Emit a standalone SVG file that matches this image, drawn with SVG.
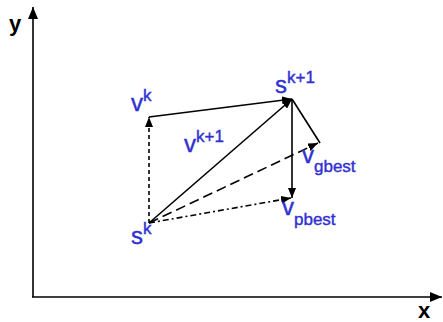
<svg xmlns="http://www.w3.org/2000/svg" width="443" height="322" viewBox="0 0 443 322">
<defs>
<marker id="ah" viewBox="0 0 10 8" refX="10" refY="4" markerWidth="10" markerHeight="8" markerUnits="userSpaceOnUse" orient="auto"><path d="M0,0 L10,4 L0,8 Z" fill="#000"/></marker>
<marker id="axh" viewBox="0 0 12 10" refX="12" refY="5" markerWidth="12" markerHeight="10" markerUnits="userSpaceOnUse" orient="auto"><path d="M0,0 L12,5 L0,10 Z" fill="#000"/></marker>
</defs>
<style>
.lbl{font-family:"Liberation Sans",Arial,sans-serif;fill:#3030d0;stroke:#3030d0;stroke-width:0.4;font-size:24px}
.sup{font-size:17px}
.ax{font-family:"Liberation Sans",Arial,sans-serif;fill:#000;font-size:22px;font-weight:bold}
.ln{stroke:#000;stroke-width:1.6;fill:none}
</style>
<rect width="443" height="322" fill="#fff"/>
<g id="axes">
<line class="ln" x1="33" y1="297" x2="33" y2="7" stroke-width="2" marker-end="url(#axh)"/>
<line class="ln" x1="32" y1="297" x2="442" y2="297" stroke-width="2" marker-end="url(#axh)"/>
<text class="ax" x="9" y="31">y</text>
<text class="ax" x="418" y="318">x</text>
</g>
<g id="connectors">
<line class="ln" x1="149" y1="223" x2="149" y2="117" stroke-width="2" stroke-dasharray="4,3" marker-end="url(#ah)"/>
<line class="ln" x1="149" y1="117" x2="292" y2="99" marker-end="url(#ah)"/>
<line class="ln" x1="149" y1="223" x2="292" y2="99" marker-end="url(#ah)"/>
<line class="ln" x1="292" y1="99" x2="320" y2="143"/>
<line class="ln" x1="149" y1="223" x2="318" y2="143" stroke-dasharray="10,5" marker-end="url(#ah)"/>
<line class="ln" x1="292" y1="99" x2="292" y2="198" marker-end="url(#ah)"/>
<line class="ln" x1="149" y1="223" x2="291" y2="198" stroke-dasharray="6,3,2,3" marker-end="url(#ah)"/>
</g>
<g id="node-vk"><text class="lbl" x="131" y="111">v<tspan class="sup" dy="-10">k</tspan></text></g>
<g id="node-vk1"><text class="lbl" x="184" y="152">v<tspan class="sup" dy="-10">k+1</tspan></text></g>
<g id="node-sk1"><text class="lbl" x="275" y="93">s<tspan class="sup" dy="-10">k+1</tspan></text></g>
<g id="node-vgbest"><text class="lbl" x="302" y="163">v<tspan class="sup" dy="9">gbest</tspan></text></g>
<g id="node-vpbest"><text class="lbl" x="282" y="215">v<tspan class="sup" dy="10">pbest</tspan></text></g>
<g id="node-sk"><text class="lbl" x="131" y="244">s<tspan class="sup" dy="-10">k</tspan></text></g>
</svg>
